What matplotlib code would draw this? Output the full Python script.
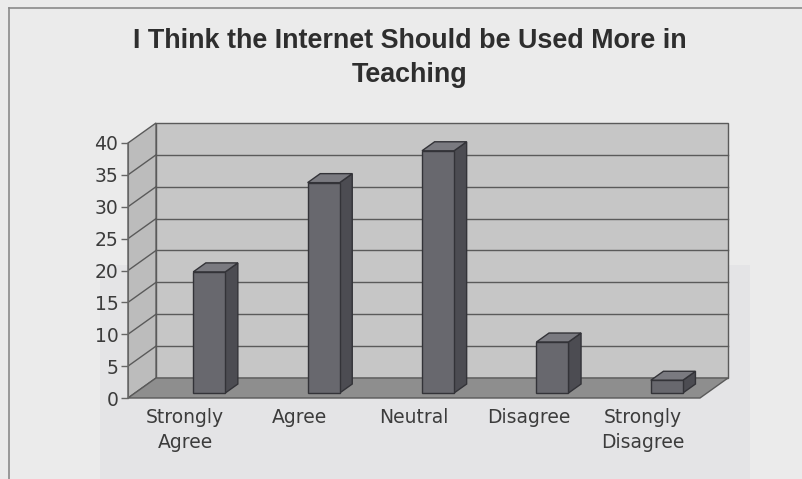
import numpy as np
import matplotlib
matplotlib.use("Agg")
import matplotlib.pyplot as plt
from matplotlib.patches import Polygon, Rectangle

# survey responses (% of respondents)
categories = ["Strongly\nAgree", "Agree", "Neutral", "Disagree", "Strongly\nDisagree"]
responses = [19, 33, 38, 8, 2]
y_ticks = [0, 5, 10, 15, 20, 25, 30, 35, 40]
title = "I Think the Internet Should be Used More in\nTeaching"

# oblique depth of the 3d box, in data units
DX, DY = 0.245, 3.14
BAR_SHIFT = 0.21     # bars sit a little behind/right of the category slot
BAR_W = 0.28
BAR_DEPTH = 0.45     # fraction of full box depth
BAR_BASE = 0.78

BG = "#ebebeb"
WALL = "#c6c6c6"
SIDE = "#bcbcbc"
FLOOR = "#8e8e8e"
GRID = "#5a5a5a"
FRONT = "#68686e"
BSIDE = "#4c4c52"
BTOP = "#7a7a80"

fig = plt.figure(figsize=(8.03, 4.79), dpi=100, facecolor=BG)

# faint darker patch under the chart + frame lines
fig.patches.append(Rectangle((100 / 803, 0), 650 / 803, 214 / 479, transform=fig.transFigure,
                             facecolor="#e4e4e6", edgecolor="none", zorder=-5))
fig.add_artist(plt.Line2D([9 / 803, 9 / 803], [0, 1 - 8 / 479], color="#8a8a8a", lw=1.2))
fig.add_artist(plt.Line2D([9 / 803, 1], [1 - 8 / 479, 1 - 8 / 479], color="#8a8a8a", lw=1.2))

xmin, xmax = -0.5, 4.8
ymin, ymax = 0, 44
ax = fig.add_axes([128 / 803, 81 / 479, (xmax - xmin) * 114.4 / 803, (ymax - ymin) * 6.375 / 479])
ax.set_zorder(2)
ax.set_xlim(xmin, xmax)
ax.set_ylim(ymin, ymax)
ax.patch.set_visible(False)

x0, x1 = -0.5, 4.5
top = y_ticks[-1]

def poly(pts, fc, z, ec=GRID, lw=1.0):
    ax.add_patch(Polygon(pts, closed=True, facecolor=fc, edgecolor=ec, lw=lw, zorder=z,
                         clip_on=False))

# walls and floor
poly([(x0 + DX, DY), (x1 + DX, DY), (x1 + DX, top + DY), (x0 + DX, top + DY)], WALL, 1)
poly([(x0, 0), (x0 + DX, DY), (x0 + DX, top + DY), (x0, top)], SIDE, 1)
poly([(x0, 0), (x1, 0), (x1 + DX, DY), (x0 + DX, DY)], FLOOR, 1)

for v in y_ticks[1:-1]:
    ax.plot([x0 + DX, x1 + DX], [v + DY, v + DY], color=GRID, lw=1.0, zorder=2)
    ax.plot([x0, x0 + DX], [v, v + DY], color=GRID, lw=1.0, zorder=2)

# bars: front face from ax.bar, side/top faces as oblique polygons
xs = np.arange(len(responses)) + BAR_SHIFT
ax.bar(xs, responses, width=BAR_W, bottom=BAR_BASE, color=FRONT, edgecolor="#333338",
       linewidth=1.0, zorder=4)
ddx, ddy = BAR_DEPTH * DX, BAR_DEPTH * DY
for x, v in zip(xs, responses):
    xl, xr = x - BAR_W / 2, x + BAR_W / 2
    b, t = BAR_BASE, BAR_BASE + v
    poly([(xr, b), (xr + ddx, b + ddy), (xr + ddx, t + ddy), (xr, t)], BSIDE, 3, ec="#333338")
    poly([(xl, t), (xr, t), (xr + ddx, t + ddy), (xl + ddx, t + ddy)], BTOP, 3, ec="#333338")

for s in ["top", "right", "bottom"]:
    ax.spines[s].set_visible(False)
ax.spines["left"].set_bounds(0, top)
ax.spines["left"].set_position(("data", x0))
ax.spines["left"].set_color("#666666")
ax.spines["left"].set_zorder(2)

ax.set_yticks(y_ticks)
ax.set_yticklabels([str(v) for v in y_ticks])
ax.tick_params(axis="y", direction="out", length=5, width=1, color="#666666", pad=2,
               labelsize=13.5, labelcolor="#3c3c3c")
ax.set_xticks(range(len(categories)))
ax.set_xticklabels(categories, linespacing=1.4)
ax.tick_params(axis="x", length=0, pad=7, labelsize=13.5, labelcolor="#3c3c3c")
for lab in ax.get_xticklabels() + ax.get_yticklabels():
    lab.set_family("DejaVu Sans")

fig.text(410 / 803, 1 - 58 / 479, title, ha="center", va="center", fontsize=19.4,
         fontweight="bold", family="Liberation Sans", color="#2e2e2e", linespacing=1.45)

fig.savefig("out.png", dpi=100, facecolor=BG)
